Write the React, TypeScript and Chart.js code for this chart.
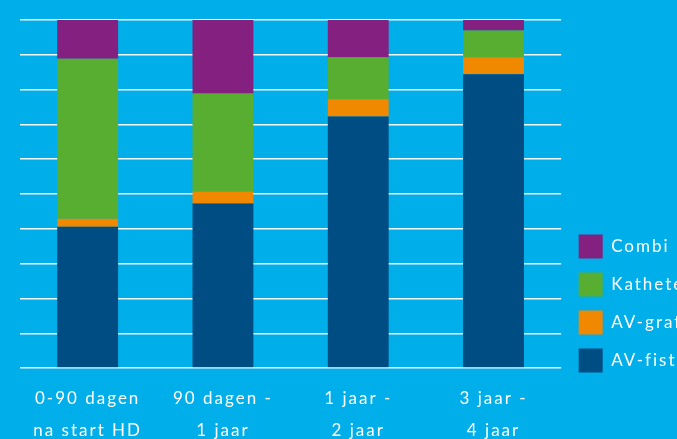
import React, { useEffect, useRef } from "react";
import { Chart, registerables } from "chart.js";

Chart.register(...registerables);

const categories: string[][] = [
  ["0-90 dagen", "na start HD"],
  ["90 dagen -", "1 jaar"],
  ["1 jaar -", "2 jaar"],
  ["3 jaar -", "4 jaar"],
];
const avFistel = [40.6, 47.3, 72.3, 84.4];
const avGraft = [2.3, 3.4, 4.9, 4.9];
const katheter = [46.0, 28.2, 12.1, 7.7];
const combi = [11.1, 21.1, 10.7, 3.0];

const BG = "#00AFEA";
const FONT = "Lato";
const SPACING = "2px";

export default function App() {
  const ref = useRef<HTMLCanvasElement | null>(null);
  useEffect(() => {
    if (!ref.current) return;
    const spacingPlugin = {
      id: "spacing",
      beforeUpdate(c: any) { c.ctx.letterSpacing = SPACING; },
      beforeDraw(c: any) { c.ctx.letterSpacing = SPACING; },
    };
    const legendGap = {
      id: "legendGap",
      afterLayout(c: any) {
        const lg = c.legend;
        if (lg) { lg.left += 3.5; lg.right += 3.5; }
      },
    };
    const chart = new Chart(ref.current, {
      type: "bar",
      data: {
        labels: categories,
        datasets: [
          { label: "AV-fistel", data: avFistel, backgroundColor: "#004D84" },
          { label: "AV-graft", data: avGraft, backgroundColor: "#F08800" },
          { label: "Katheter", data: katheter, backgroundColor: "#57AE31" },
          { label: "Combi", data: combi, backgroundColor: "#842080" },
        ],
      },
      options: {
        responsive: false,
        animation: false,
        layout: { padding: { top: 20, left: 20, right: 80, bottom: 10 } },
        datasets: { bar: { barPercentage: 0.45, categoryPercentage: 1 } },
        scales: {
          x: {
            stacked: true,
            grid: { display: false, drawTicks: false },
            border: { display: false },
            ticks: {
              color: "#ffffff",
              padding: 14,
              maxRotation: 0,
              autoSkip: false,
              font: { family: FONT, size: 17, lineHeight: 1.88 },
            },
          },
          y: {
            stacked: true,
            min: 0,
            max: 100,
            ticks: { display: false, stepSize: 10 },
            grid: { color: "rgba(255,255,255,0.95)", lineWidth: 1.5, drawTicks: false },
            border: { display: false },
          },
        },
        plugins: {
          tooltip: { enabled: false },
          legend: {
            position: "right",
            align: "start",
            reverse: true,
            title: { display: true, text: "", padding: { top: 0, bottom: 180 }, font: { family: FONT, size: 17 } },
            labels: {
              color: "#ffffff",
              boxWidth: 24,
              boxHeight: 24,
              padding: 14,
              font: { family: FONT, size: 17 },
            },
          },
        },
      },
      plugins: [spacingPlugin, legendGap],
    });
    return () => chart.destroy();
  }, []);
  return (
    <div style={{ position: "fixed", left: 0, top: 0, width: 677, height: 439, overflow: "hidden", background: BG }}>
      <canvas ref={ref} width={780} height={470} style={{ display: "block" }} />
    </div>
  );
}
